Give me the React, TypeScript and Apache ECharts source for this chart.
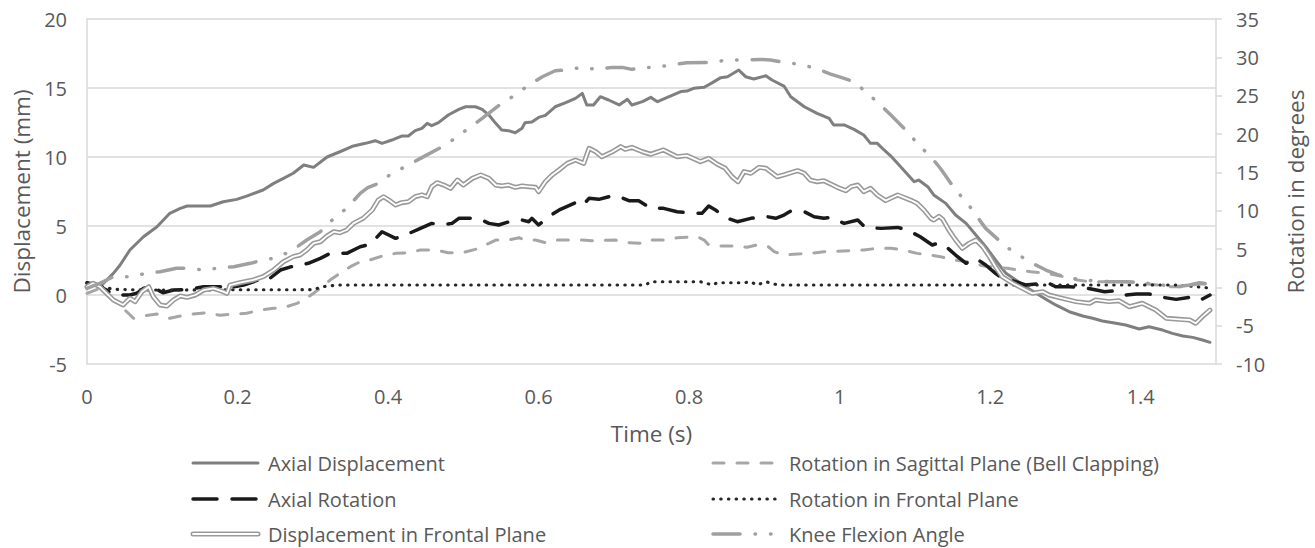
import React, { useEffect, useRef } from "react";
import * as echarts from "echarts";

// ---------- data (time in s, value) ----------
const seriesNames = [
  "Axial Displacement",
  "Rotation in Sagittal Plane (Bell Clapping)",
  "Axial Rotation",
  "Rotation in Frontal Plane",
  "Displacement in Frontal Plane",
  "Knee Flexion Angle",
];

const timeRange = [0, 1.5];
const timeStep = 0.2;
const displacementRange = [-5, 20];
const displacementStep = 5;
const rotationRange = [-10, 35];
const rotationStep = 5;

// mm, left axis
const axialDisplacement: number[][] = [
  [0, 0.6], [0.017, 0.8], [0.022, 0.85], [0.035, 1.57], [0.044, 2.17], [0.057, 3.26], [0.075, 4.22],
  [0.093, 4.95], [0.11, 5.92], [0.124, 6.28], [0.133, 6.45], [0.164, 6.45], [0.181, 6.76], [0.199, 6.93],
  [0.212, 7.17], [0.234, 7.61], [0.248, 8.09], [0.261, 8.45], [0.274, 8.82], [0.288, 9.42], [0.301, 9.25],
  [0.319, 10.0], [0.336, 10.38], [0.354, 10.8], [0.37, 10.99], [0.383, 11.18], [0.392, 10.99], [0.405, 11.23],
  [0.418, 11.52], [0.427, 11.52], [0.436, 11.91], [0.445, 12.08], [0.452, 12.44], [0.458, 12.27], [0.467, 12.49],
  [0.48, 13.04], [0.494, 13.45], [0.503, 13.64], [0.516, 13.64], [0.525, 13.45], [0.534, 13.04], [0.543, 12.44],
  [0.551, 11.96], [0.56, 11.91], [0.569, 11.76], [0.578, 12.08], [0.582, 12.49], [0.591, 12.54], [0.6, 12.87],
  [0.609, 13.02], [0.622, 13.64], [0.636, 13.94], [0.649, 14.25], [0.658, 14.61], [0.664, 13.77], [0.673, 13.77],
  [0.682, 14.37], [0.693, 14.13], [0.707, 13.77], [0.718, 14.18], [0.724, 13.77], [0.738, 14.01], [0.749, 14.32],
  [0.758, 14.01], [0.771, 14.32], [0.789, 14.74], [0.797, 14.78], [0.806, 14.98], [0.82, 15.05], [0.831, 15.39],
  [0.842, 15.75], [0.851, 15.82], [0.866, 16.3], [0.875, 15.82], [0.886, 15.65], [0.902, 15.89], [0.91, 15.58],
  [0.926, 15.14], [0.935, 14.37], [0.953, 13.64], [0.97, 13.16], [0.986, 12.8], [0.992, 12.32], [1.006, 12.32],
  [1.019, 12.0], [1.032, 11.59], [1.041, 10.99], [1.05, 10.99], [1.059, 10.51], [1.068, 10.07], [1.081, 9.3],
  [1.099, 8.21], [1.105, 8.33], [1.117, 7.85], [1.125, 7.25], [1.141, 6.64], [1.154, 5.8], [1.168, 5.19],
  [1.181, 4.35], [1.194, 3.5], [1.207, 2.54], [1.221, 1.57], [1.234, 1.09], [1.247, 0.6], [1.261, 0.12],
  [1.274, -0.31], [1.287, -0.72], [1.305, -1.21], [1.323, -1.52], [1.336, -1.69], [1.349, -1.88], [1.367, -2.05],
  [1.38, -2.17], [1.398, -2.46], [1.411, -2.3], [1.429, -2.54], [1.442, -2.78], [1.456, -2.97], [1.469, -3.07],
  [1.482, -3.26], [1.492, -3.43],
];

// degrees, right axis
const sagittalRotation: number[][] = [
  [0, -0.78], [0.017, -0.13], [0.031, -1.22], [0.048, -2.74], [0.062, -4.04], [0.075, -3.74], [0.093, -3.48],
  [0.11, -4.04], [0.124, -3.74], [0.141, -3.48], [0.159, -3.31], [0.177, -3.65], [0.195, -3.48], [0.212, -3.39],
  [0.23, -2.96], [0.248, -2.74], [0.265, -2.53], [0.279, -2.09], [0.288, -1.66], [0.301, -0.78], [0.31, -0.13],
  [0.323, 0.95], [0.336, 1.83], [0.35, 2.69], [0.363, 3.34], [0.376, 3.56], [0.396, 4.21], [0.41, 4.43],
  [0.427, 4.51], [0.443, 4.87], [0.463, 4.87], [0.48, 4.51], [0.498, 4.51], [0.516, 4.95], [0.534, 5.74],
  [0.543, 6.17], [0.56, 6.17], [0.574, 6.47], [0.582, 6.17], [0.596, 6.17], [0.609, 5.82], [0.622, 6.17],
  [0.658, 6.17], [0.671, 6.08], [0.702, 6.17], [0.72, 5.82], [0.738, 5.74], [0.746, 6.17], [0.766, 6.17],
  [0.784, 6.47], [0.811, 6.6], [0.82, 6.17], [0.826, 5.52], [0.842, 5.39], [0.859, 5.39], [0.877, 5.22],
  [0.89, 5.52], [0.904, 5.39], [0.913, 4.65], [0.926, 4.21], [0.944, 4.34], [0.961, 4.43], [0.979, 4.65],
  [1.015, 4.78], [1.032, 4.87], [1.05, 5.09], [1.068, 5.09], [1.085, 4.87], [1.103, 4.43], [1.121, 4.21],
  [1.134, 4.0], [1.152, 3.56], [1.17, 3.34], [1.192, 2.78], [1.21, 2.61], [1.223, 2.48], [1.236, 2.26],
  [1.254, 2.03], [1.267, 1.91], [1.281, 1.7], [1.298, 1.38], [1.316, 0.95], [1.333, 0.73], [1.387, 0.73],
  [1.404, 0.52], [1.422, 0.3], [1.44, 0.08], [1.458, 0.08], [1.475, 0.43], [1.491, 0.43],
];

const axialRotation: number[][] = [
  [0, 0.6], [0.013, 0.3], [0.026, -0.35], [0.035, -1.0], [0.057, -1.0], [0.066, -0.78], [0.075, -0.13],
  [0.084, 0.17], [0.101, -0.7], [0.115, -0.35], [0.137, -0.26], [0.155, 0.08], [0.177, 0.08], [0.186, -0.35],
  [0.195, 0.08], [0.208, 0.3], [0.221, 0.73], [0.23, 1.04], [0.239, 0.86], [0.257, 2.26], [0.279, 2.91],
  [0.294, 3.13], [0.31, 3.78], [0.323, 4.43], [0.345, 4.43], [0.363, 5.3], [0.376, 5.6], [0.392, 7.25],
  [0.41, 6.39], [0.423, 6.82], [0.443, 7.69], [0.458, 8.34], [0.472, 8.13], [0.485, 8.34], [0.494, 9.0],
  [0.512, 9.0], [0.523, 8.87], [0.534, 8.34], [0.547, 8.13], [0.565, 8.69], [0.578, 8.78], [0.587, 8.56],
  [0.591, 9.0], [0.6, 8.13], [0.613, 9.21], [0.629, 10.17], [0.649, 11.04], [0.658, 10.6], [0.667, 11.61],
  [0.68, 11.48], [0.698, 11.95], [0.707, 11.82], [0.72, 11.3], [0.733, 11.3], [0.749, 10.3], [0.766, 10.3],
  [0.784, 9.86], [0.806, 9.65], [0.817, 9.65], [0.826, 10.6], [0.835, 10.08], [0.851, 9.0], [0.864, 8.56],
  [0.882, 9.0], [0.904, 9.21], [0.915, 9.0], [0.926, 9.43], [0.935, 9.95], [0.953, 9.86], [0.966, 9.21],
  [0.979, 9.0], [0.988, 9.13], [1.006, 8.34], [1.024, 8.78], [1.034, 7.82], [1.055, 7.69], [1.077, 7.82],
  [1.09, 7.47], [1.107, 6.6], [1.123, 5.52], [1.132, 5.8], [1.139, 5.52], [1.154, 4.21], [1.168, 3.13],
  [1.181, 3.78], [1.194, 2.91], [1.207, 1.83], [1.216, 1.17], [1.234, 0.73], [1.247, 0.3], [1.261, 0.43],
  [1.274, 0.73], [1.287, 0.08], [1.305, 0.08], [1.323, 0], [1.336, -0.26], [1.352, -0.57], [1.367, -0.44],
  [1.38, -1.0], [1.394, -0.87], [1.411, -0.87], [1.429, -1.3], [1.447, -1.57], [1.465, -1.3], [1.478, -1.74],
  [1.492, -1.0],
];

const frontalRotation: number[][] = [
  [0, 0.52], [0.017, 0.17], [0.035, -0.26], [0.079, -0.35], [0.301, -0.3], [0.31, 0], [0.319, 0.17],
  [0.336, 0.3], [0.742, 0.3], [0.749, 0.73], [0.815, 0.73], [0.831, 0.3], [0.837, 0.6], [0.873, 0.6],
  [0.882, 0.73], [0.89, 0.3], [0.902, 0.73], [0.913, 0.43], [0.919, 0.3], [1.45, 0.3], [1.492, -0.1],
];

// mm, left axis
const frontalDisplacement: number[][] = [
  [0, 0.6], [0.008, 0.85], [0.017, 0.6], [0.026, 0.12], [0.035, -0.36], [0.048, -0.72], [0.057, -0.24],
  [0.064, -0.48], [0.073, 0.24], [0.082, 0.6], [0.088, -0.12], [0.097, -0.72], [0.106, -0.8], [0.115, -0.36],
  [0.124, -0.07], [0.133, -0.17], [0.144, 0], [0.155, 0.36], [0.168, 0.48], [0.181, 0.24], [0.186, 0.12],
  [0.19, 0.72], [0.203, 0.89], [0.221, 1.09], [0.234, 1.33], [0.248, 1.81], [0.261, 2.41], [0.274, 2.78],
  [0.283, 2.9], [0.292, 3.26], [0.301, 3.74], [0.31, 3.86], [0.319, 4.28], [0.328, 4.59], [0.336, 4.51],
  [0.345, 4.71], [0.354, 5.19], [0.367, 5.56], [0.379, 6.16], [0.387, 6.88], [0.394, 7.12], [0.401, 6.88],
  [0.41, 6.52], [0.418, 6.69], [0.427, 6.76], [0.436, 7.12], [0.445, 7.25], [0.452, 7.12], [0.458, 7.85],
  [0.465, 8.14], [0.474, 7.97], [0.483, 7.73], [0.492, 8.33], [0.5, 7.97], [0.512, 8.45], [0.523, 8.7],
  [0.534, 8.45], [0.543, 7.97], [0.551, 7.9], [0.56, 7.97], [0.569, 7.8], [0.578, 7.9], [0.587, 7.85],
  [0.596, 7.8], [0.6, 7.49], [0.609, 8.21], [0.618, 8.7], [0.627, 9.06], [0.638, 9.54], [0.649, 9.78],
  [0.66, 9.54], [0.667, 10.63], [0.676, 10.38], [0.684, 10.02], [0.698, 10.38], [0.709, 10.75], [0.715, 10.56],
  [0.724, 10.7], [0.738, 10.38], [0.749, 10.2], [0.766, 10.51], [0.784, 10.02], [0.797, 10.1], [0.815, 9.66],
  [0.826, 9.9], [0.837, 9.49], [0.848, 9.18], [0.857, 8.57], [0.865, 8.21], [0.873, 8.94], [0.882, 8.82],
  [0.893, 9.25], [0.902, 9.18], [0.917, 8.57], [0.926, 8.7], [0.944, 9.01], [0.953, 8.82], [0.961, 8.33],
  [0.97, 8.21], [0.979, 8.28], [0.988, 8.04], [0.997, 7.8], [1.008, 7.56], [1.015, 7.85], [1.024, 7.97],
  [1.032, 7.49], [1.041, 7.73], [1.05, 7.25], [1.061, 6.84], [1.077, 7.25], [1.094, 6.88], [1.103, 6.64],
  [1.112, 6.16], [1.121, 5.56], [1.125, 5.43], [1.132, 5.7], [1.137, 5.48], [1.145, 4.71], [1.154, 3.99],
  [1.163, 3.38], [1.172, 3.74], [1.181, 3.99], [1.19, 3.5], [1.199, 2.78], [1.207, 2.05], [1.216, 1.33],
  [1.23, 0.85], [1.243, 0.48], [1.256, 0.12], [1.27, 0.24], [1.278, 0], [1.296, -0.24], [1.314, -0.48],
  [1.332, -0.6], [1.34, -0.36], [1.358, -0.48], [1.371, -0.41], [1.385, -0.85], [1.402, -0.6], [1.42, -1.09],
  [1.434, -1.69], [1.451, -1.76], [1.465, -1.81], [1.473, -2.05], [1.482, -1.57], [1.492, -1.09],
];

// degrees, right axis
const kneeFlexion: number[][] = [
  [0, -0.13], [0.017, 0.52], [0.035, 1.38], [0.057, 1.38], [0.079, 1.83], [0.097, 2.03], [0.119, 2.48],
  [0.137, 2.48], [0.155, 2.26], [0.172, 2.48], [0.195, 2.69], [0.217, 3.13], [0.234, 3.56], [0.248, 3.78],
  [0.27, 4.65], [0.292, 6.17], [0.31, 7.25], [0.328, 9.0], [0.345, 10.3], [0.363, 12.26], [0.373, 13.0],
  [0.387, 13.56], [0.405, 14.87], [0.423, 15.73], [0.443, 16.82], [0.472, 18.34], [0.489, 19.43], [0.507, 20.74],
  [0.525, 22.04], [0.551, 24.0], [0.569, 25.08], [0.587, 26.39], [0.605, 27.47], [0.622, 28.25], [0.636, 28.34],
  [0.658, 28.69], [0.676, 28.43], [0.698, 28.69], [0.711, 28.69], [0.724, 28.43], [0.738, 28.69], [0.755, 28.69],
  [0.775, 28.99], [0.797, 29.3], [0.828, 29.34], [0.851, 29.65], [0.873, 29.65], [0.895, 29.73], [0.908, 29.65],
  [0.926, 29.34], [0.948, 29.08], [0.968, 28.56], [0.988, 27.82], [1.006, 27.26], [1.019, 26.82], [1.037, 25.3],
  [1.052, 24.0], [1.068, 22.47], [1.09, 20.3], [1.105, 18.56], [1.121, 17.03], [1.134, 15.5], [1.154, 12.69],
  [1.17, 10.95], [1.181, 9.43], [1.194, 7.69], [1.221, 5.3], [1.238, 4.21], [1.256, 3.13], [1.274, 2.26],
  [1.291, 1.6], [1.309, 1.17], [1.327, 0.95], [1.358, 0.73], [1.38, 0.73], [1.402, 0.6], [1.429, 0.3],
  [1.447, 0.08], [1.465, 0.3], [1.478, 0.6], [1.492, 0.43],
];

// ---------- styles ----------
const FONT = "Open Sans";
const TEXT = "#595959";
const GRID = "#d9d9d9";
const TICK_SIZE = 20;
const LEGEND_SIZE = 20;
const TITLE_SIZE = 22.5;

const styles = {
  axialDisp: { color: "#7f7f7f", width: 3, type: "solid" as any, cap: "round" as const },
  sagittal: { color: "#a6a6a6", width: 3, type: [11, 13] as any, cap: "round" as const },
  axialRot: { color: "#1a1a1a", width: 3.5, type: [24, 15] as any, cap: "round" as const },
  frontalRot: { color: "#262626", width: 3.1, type: [0.5, 7.2] as any, cap: "round" as const },
  frontalOuter: { color: "#999999", width: 5, type: "solid" as any, cap: "round" as const },
  frontalInner: { color: "#ffffff", width: 1.8, type: "solid" as any, cap: "round" as const },
  knee: { color: "#a0a0a0", width: 3.5, type: [27, 15, 0.5, 15, 0.5, 15] as any, cap: "round" as const },
};

function lineSeries(name: string, data: number[][], axis: number, ls: any, z: number) {
  return {
    type: "line",
    name,
    data,
    yAxisIndex: axis,
    showSymbol: false,
    symbol: "none",
    lineStyle: { color: ls.color, width: ls.width, type: ls.type, cap: ls.cap, join: "round" },
    itemStyle: { color: ls.color },
    z,
    silent: true,
  };
}

function legendItem(x1: number, x2: number, tx: number, y: number, label: string, key: string): any[] {
  const out: any[] = [];
  const add = (s: any) =>
    out.push({
      type: "line",
      shape: { x1, y1: y, x2, y2: y },
      style: { stroke: s.color, lineWidth: s.width, lineDash: Array.isArray(s.type) ? s.type : null, lineCap: s.cap },
    });
  if (key === "frontalDisp") {
    add(styles.frontalOuter);
    add(styles.frontalInner);
  } else {
    add((styles as any)[key]);
  }
  out.push({
    type: "text",
    x: tx,
    y,
    style: { text: label, fill: TEXT, fontSize: LEGEND_SIZE, fontFamily: FONT, verticalAlign: "middle", align: "left" },
  });
  return out;
}

export default function App() {
  const ref = useRef<HTMLDivElement>(null);

  useEffect(() => {
    if (!ref.current) return;
    const chart = echarts.init(ref.current, undefined, { renderer: "svg" });

    const axisLabel = { color: TEXT, fontSize: TICK_SIZE, fontFamily: FONT };
    const titleStyle = { color: TEXT, fontSize: TITLE_SIZE, fontFamily: FONT };

    const option: any = {
      animation: false,
      textStyle: { fontFamily: FONT },
      grid: { left: 87, right: 99, top: 19, bottom: 184, containLabel: false },
      xAxis: {
        type: "value",
        min: timeRange[0],
        max: timeRange[1],
        interval: timeStep,
        axisLine: { show: false },
        axisTick: { show: false },
        splitLine: { show: false },
        axisLabel: {
          ...axisLabel,
          margin: 22,
          showMaxLabel: false,
          formatter: (v: number) => String(Math.round(v * 10) / 10),
        },
        name: "Time (s)",
        nameLocation: "middle",
        nameGap: 58,
        nameTextStyle: titleStyle,
      },
      yAxis: [
        {
          type: "value",
          min: displacementRange[0],
          max: displacementRange[1],
          interval: displacementStep,
          axisLine: { show: true, lineStyle: { color: GRID, width: 1.5 } },
          axisTick: { show: false },
          splitLine: { show: true, lineStyle: { color: GRID, width: 1.5 } },
          axisLabel: { ...axisLabel, margin: 20 },
          name: "Displacement (mm)",
          nameLocation: "middle",
          nameRotate: 90,
          nameGap: 53,
          nameTextStyle: titleStyle,
        },
        {
          type: "value",
          position: "right",
          min: rotationRange[0],
          max: rotationRange[1],
          interval: rotationStep,
          axisLine: { show: true, lineStyle: { color: GRID, width: 1.5 } },
          axisTick: { show: true, length: 6, lineStyle: { color: GRID, width: 1.5 } },
          splitLine: { show: false },
          axisLabel: { ...axisLabel, margin: 20 },
          name: "Rotation in degrees",
          nameLocation: "middle",
          nameRotate: 90,
          nameGap: 68,
          nameTextStyle: titleStyle,
        },
      ],
      series: [
        lineSeries(seriesNames[0], axialDisplacement, 0, styles.axialDisp, 2),
        lineSeries(seriesNames[1], sagittalRotation, 1, styles.sagittal, 3),
        lineSeries(seriesNames[2], axialRotation, 1, styles.axialRot, 4),
        lineSeries(seriesNames[3], frontalRotation, 1, styles.frontalRot, 5),
        lineSeries(seriesNames[4], frontalDisplacement, 0, styles.frontalOuter, 6),
        lineSeries(seriesNames[4] + " ", frontalDisplacement, 0, styles.frontalInner, 7),
        lineSeries(seriesNames[5], kneeFlexion, 1, styles.knee, 8),
      ],
      graphic: [
        ...legendItem(193, 258, 268, 463, seriesNames[0], "axialDisp"),
        ...legendItem(713, 776, 789, 463, seriesNames[1], "sagittal"),
        ...legendItem(193, 258, 268, 499, seriesNames[2], "axialRot"),
        ...legendItem(713, 776, 789, 499, seriesNames[3], "frontalRot"),
        ...legendItem(193, 258, 268, 534, seriesNames[4], "frontalDisp"),
        ...legendItem(713, 776, 789, 534, seriesNames[5], "knee"),
      ],
    };

    chart.setOption(option);
    return () => chart.dispose();
  }, []);

  return (
    <div
      ref={ref}
      style={{ position: "fixed", left: 0, top: 0, width: 1315, height: 548, background: "#ffffff" }}
    />
  );
}
